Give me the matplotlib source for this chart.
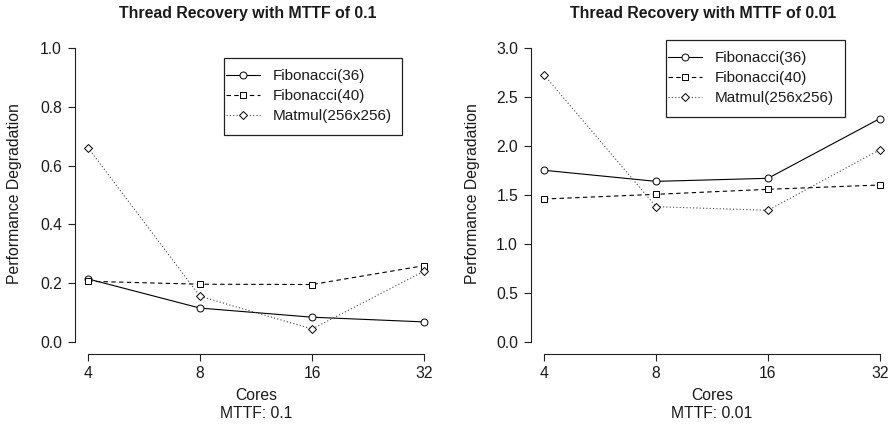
import matplotlib
matplotlib.use("Agg")
import matplotlib.pyplot as plt
from matplotlib.patches import Rectangle
from matplotlib.ticker import FixedLocator, FixedFormatter, NullLocator

plt.rcParams['font.family'] = ['Liberation Sans', 'DejaVu Sans']

cores = [4, 8, 16, 32]
core_labels = ["4", "8", "16", "32"]
series_names = ["Fibonacci(36)", "Fibonacci(40)", "Matmul(256x256)"]

# MTTF 0.1
fib36_a = [0.215, 0.116, 0.085, 0.069]
fib40_a = [0.207, 0.197, 0.196, 0.260]
matmul_a = [0.661, 0.156, 0.045, 0.241]

# MTTF 0.01
fib36_b = [1.752, 1.639, 1.670, 2.279]
fib40_b = [1.459, 1.507, 1.558, 1.602]
matmul_b = [2.724, 1.381, 1.344, 1.963]

titles = ["Thread Recovery with MTTF of 0.1", "Thread Recovery with MTTF of 0.01"]
subs = ["MTTF: 0.1", "MTTF: 0.01"]
yticks_a = [0.0, 0.2, 0.4, 0.6, 0.8, 1.0]
yticks_b = [0.0, 0.5, 1.0, 1.5, 2.0, 2.5, 3.0]

W, H = 894, 426
fig = plt.figure(figsize=(W / 100, H / 100), dpi=100)
TXT = '#1a1a1a'

AX_TOP, AX_BOT = 36, 354

def px_axes(x0, x1):
    return fig.add_axes([x0 / W, 1 - AX_BOT / H, (x1 - x0) / W, (AX_BOT - AX_TOP) / H])

styles = [
    dict(linestyle='-', marker='o', color='black', lw=0.8),
    dict(linestyle=(0, (4, 3)), marker='s', color='black', lw=0.8),
    dict(linestyle=(0, (1, 2)), marker='D', color='#444444', lw=0.8),
]
msizes = [5, 4.6, 4.2]

panels = [
    (74.5, 437.5, [fib36_a, fib40_a, matmul_a], yticks_a, (224, 402, 58, 135), 15, 248),
    (530.6, 893.4, [fib36_b, fib40_b, matmul_b], yticks_b, (666, 845, 40, 117), 472, 703),
]

for i, (x0, x1, data, yt, box, ylx, tx) in enumerate(panels):
    ax = px_axes(x0, x1)
    for vals, st, ms, name in zip(data, styles, msizes, series_names):
        ax.plot(cores, vals, markersize=ms, markerfacecolor='white',
                markeredgecolor='black', markeredgewidth=0.7, label=name, **st)
    ax.set_xscale('log', base=2)
    ax.set_xlim(4 / 2 ** 0.12, 32 * 2 ** 0.12)
    ymax = yt[-1]
    ax.set_ylim(-0.04 * ymax, 1.04 * ymax)
    ax.xaxis.set_major_locator(FixedLocator(cores))
    ax.xaxis.set_major_formatter(FixedFormatter(core_labels))
    ax.xaxis.set_minor_locator(NullLocator())
    ax.set_yticks(yt)
    ax.set_yticklabels([f"{v:.1f}" for v in yt])
    for s in ['top', 'right']:
        ax.spines[s].set_visible(False)
    ax.spines['left'].set_bounds(yt[0], yt[-1])
    ax.spines['bottom'].set_bounds(4, 32)
    for s in ['left', 'bottom']:
        ax.spines[s].set_linewidth(0.8)
        ax.spines[s].set_color('#222222')
    ax.tick_params(axis='both', direction='out', length=5, width=0.8,
                   labelsize=11.3, colors='#222222', labelcolor=TXT)
    ax.tick_params(axis='x', pad=4)
    ax.tick_params(axis='y', pad=4)
    ax.patch.set_visible(False)

    # legend box (pixel -> axes fraction)
    bx0, bx1, by0, by1 = box
    w_ax, h_ax = x1 - x0, AX_BOT - AX_TOP
    def fx(px):
        return (px - x0) / w_ax
    def fy(py):
        return 1 - (py - AX_TOP) / h_ax
    ax.add_patch(Rectangle((fx(bx0), fy(by1)), (bx1 - bx0) / w_ax, (by1 - by0) / h_ax,
                           transform=ax.transAxes, facecolor='white',
                           edgecolor='#222222', lw=0.9, zorder=4, clip_on=False))
    leg = ax.legend(loc='upper left', bbox_to_anchor=(fx(bx0 + 2), fy(by0 + 11)),
                    borderaxespad=0, borderpad=0, frameon=False, fontsize=11,
                    handlelength=2.2, handletextpad=0.85, labelspacing=0.4)
    leg.set_zorder(5)
    for t in leg.get_texts():
        t.set_color(TXT)

    cx = (x0 + x1) / 2 / W
    fig.text(tx / W, 1 - 13.5 / H, titles[i], ha='center', va='center',
             fontsize=11.4, fontweight='bold', color=TXT)
    fig.text(cx, 1 - 396 / H, "Cores", ha='center', va='center', fontsize=11.3, color=TXT)
    fig.text(cx, 1 - 413 / H, subs[i], ha='center', va='center', fontsize=11.3, color=TXT)
    fig.text(ylx / W, 1 - 194 / H, "Performance Degradation", rotation=90,
             ha='center', va='center', fontsize=11.3, color=TXT)

fig.savefig("out.png", dpi=100)
